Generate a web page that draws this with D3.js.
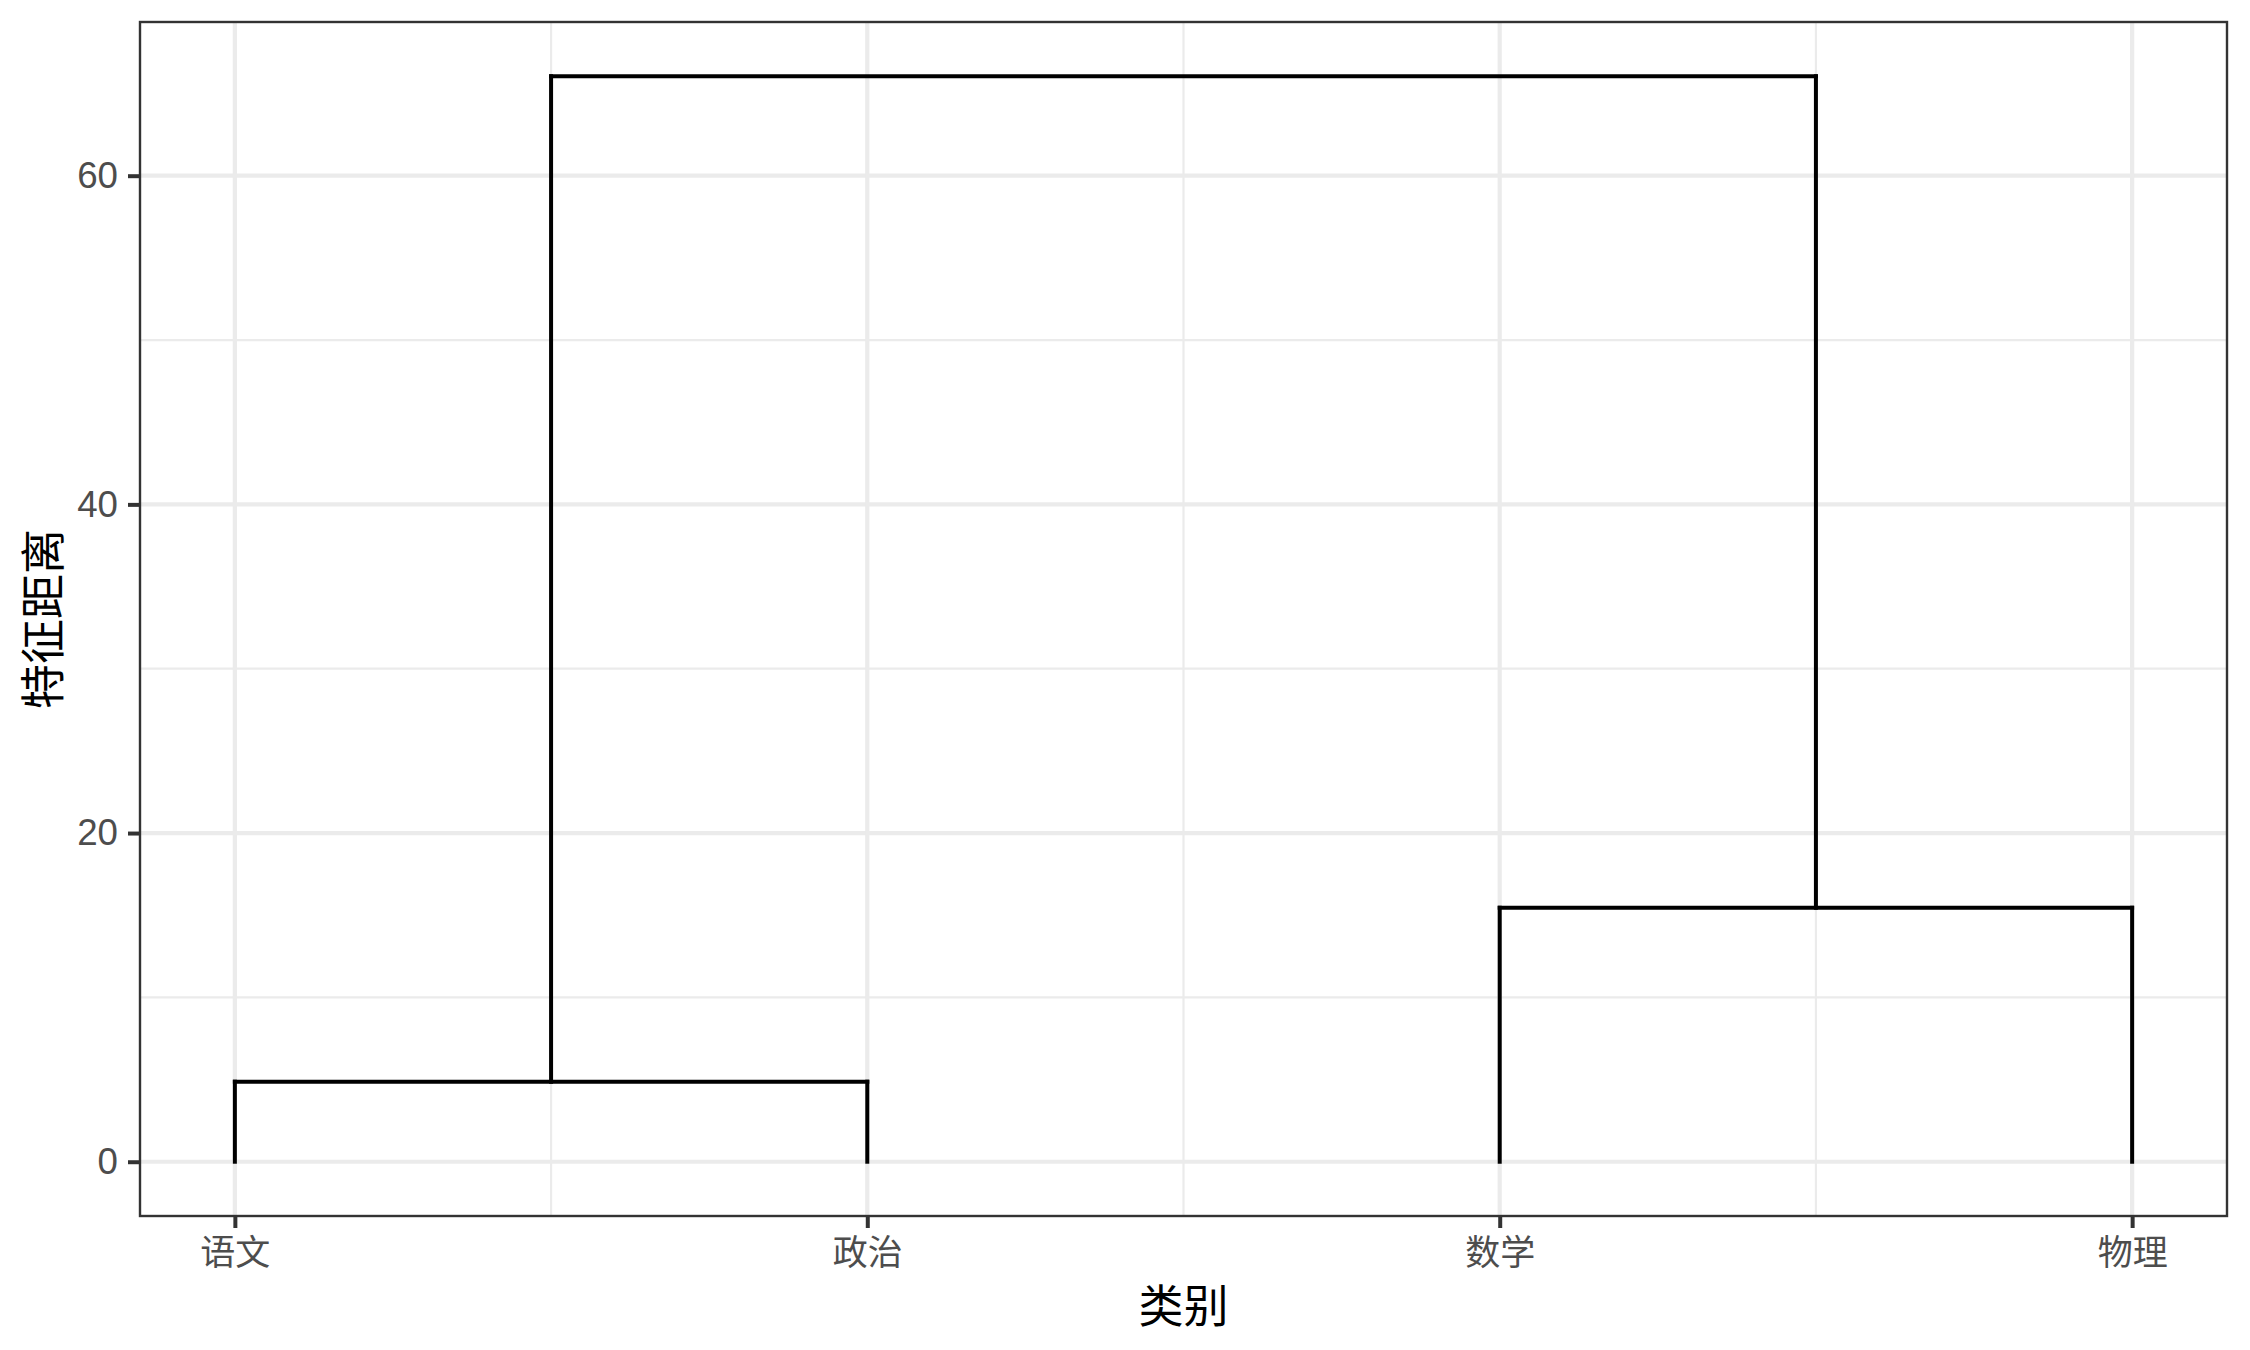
<!DOCTYPE html>
<html>
<head>
<meta charset="utf-8">
<script src="https://cdn.jsdelivr.net/npm/d3@7"></script>
<style>
  html, body { margin: 0; padding: 0; background: #ffffff; }
  svg { display: block; }
</style>
</head>
<body>
<svg id="chart" width="2250" height="1350"></svg>
<script>
// ---- data ----
const leafLabels = ["语文", "政治", "数学", "物理"];
// hclust-style merge table: negative = leaf index (1-based), positive = earlier merge (1-based)
const mergeLeft = [-1, -3, 1];
const mergeRight = [-2, -4, 2];
const mergeHeight = [4.87, 15.46, 66.05];
const yTicks = [0, 20, 40, 60];
const yMinor = [10, 30, 50];
const xTitle = "类别";
const yTitle = "特征距离";

// ---- layout ----
const W = 2250, H = 1350;
const panel = { left: 140, right: 2227, top: 22, bottom: 1216 };
const cjk = "'Noto Sans CJK SC', 'Noto Sans', sans-serif";
const latin = "'Liberation Sans', Arial, sans-serif";

const svg = d3.select("#chart");

const n = leafLabels.length;
const xDomain = [1, n];
const xPad = (xDomain[1] - xDomain[0]) * 0.05;
const x = d3.scaleLinear().domain([xDomain[0] - xPad, xDomain[1] + xPad]).range([panel.left, panel.right]);
const yMax = d3.max(mergeHeight);
const yPad = yMax * 0.05;
const y = d3.scaleLinear().domain([-yPad, yMax + yPad]).range([panel.bottom, panel.top]);

// compute node positions
function nodeInfo(ref) {
  if (ref < 0) return { x: -ref, h: 0 };
  return merged[ref - 1];
}
const merged = [];
const segments = [];
mergeLeft.forEach((l, i) => {
  const a = nodeInfo(l), b = nodeInfo(mergeRight[i]);
  const h = mergeHeight[i];
  segments.push({ x1: a.x, y1: h, x2: b.x, y2: h });
  segments.push({ x1: a.x, y1: h, x2: a.x, y2: a.h });
  segments.push({ x1: b.x, y1: h, x2: b.x, y2: b.h });
  merged.push({ x: (a.x + b.x) / 2, h: h });
});

// background
svg.append("rect").attr("width", W).attr("height", H).attr("fill", "#ffffff");

const defs = svg.append("defs");
defs.append("clipPath").attr("id", "pclip").append("rect")
  .attr("x", panel.left).attr("y", panel.top)
  .attr("width", panel.right - panel.left).attr("height", panel.bottom - panel.top);

const g = svg.append("g").attr("clip-path", "url(#pclip)");
g.append("rect").attr("x", panel.left).attr("y", panel.top)
  .attr("width", panel.right - panel.left).attr("height", panel.bottom - panel.top)
  .attr("fill", "#ffffff");

const xMinor = d3.range(1, n).map(i => i + 0.5);
const xMajor = d3.range(1, n + 1);

// minor grid
g.selectAll(".ymin").data(yMinor).enter().append("line")
  .attr("x1", panel.left).attr("x2", panel.right)
  .attr("y1", d => y(d)).attr("y2", d => y(d))
  .attr("stroke", "#ebebeb").attr("stroke-width", 2.2);
g.selectAll(".xmin").data(xMinor).enter().append("line")
  .attr("y1", panel.top).attr("y2", panel.bottom)
  .attr("x1", d => x(d)).attr("x2", d => x(d))
  .attr("stroke", "#ebebeb").attr("stroke-width", 2.2);
// major grid
g.selectAll(".ymaj").data(yTicks).enter().append("line")
  .attr("x1", panel.left).attr("x2", panel.right)
  .attr("y1", d => y(d)).attr("y2", d => y(d))
  .attr("stroke", "#ebebeb").attr("stroke-width", 4.2);
g.selectAll(".xmaj").data(xMajor).enter().append("line")
  .attr("y1", panel.top).attr("y2", panel.bottom)
  .attr("x1", d => x(d)).attr("x2", d => x(d))
  .attr("stroke", "#ebebeb").attr("stroke-width", 4.2);

// dendrogram segments
g.selectAll(".seg").data(segments).enter().append("line")
  .attr("x1", d => x(d.x1)).attr("y1", d => y(d.y1))
  .attr("x2", d => x(d.x2)).attr("y2", d => y(d.y2))
  .attr("stroke", "#000000").attr("stroke-width", 4)
  .attr("stroke-linecap", "square");

// panel border
svg.append("rect").attr("x", panel.left).attr("y", panel.top)
  .attr("width", panel.right - panel.left).attr("height", panel.bottom - panel.top)
  .attr("fill", "none").attr("stroke", "#333333").attr("stroke-width", 2.4);

// axes
const yAxis = d3.axisLeft(y).tickValues(yTicks).tickSize(11).tickPadding(10).tickFormat(d3.format("d"));
const ya = svg.append("g").attr("transform", `translate(${panel.left - 1},0)`).call(yAxis);
ya.select(".domain").remove();
ya.selectAll(".tick line").attr("stroke", "#333333").attr("stroke-width", 4);
ya.selectAll(".tick text").attr("fill", "#4d4d4d").style("font-family", latin).style("font-size", "36.7px");

const xAxis = d3.axisBottom(x).tickValues(xMajor).tickSize(11).tickPadding(12)
  .tickFormat(d => leafLabels[d - 1]);
const xa = svg.append("g").attr("transform", `translate(0,${panel.bottom + 1})`).call(xAxis);
xa.select(".domain").remove();
xa.selectAll(".tick line").attr("stroke", "#333333").attr("stroke-width", 4);
xa.selectAll(".tick text").attr("fill", "#4d4d4d").style("font-family", cjk).style("font-size", "35px");

// titles
svg.append("text").attr("x", (panel.left + panel.right) / 2).attr("y", 1303)
  .attr("text-anchor", "middle").attr("dominant-baseline", "central")
  .style("font-family", cjk).style("font-size", "45px").attr("fill", "#000000")
  .text(xTitle);
svg.append("text")
  .attr("transform", `translate(40,${(panel.top + panel.bottom) / 2}) rotate(-90)`)
  .attr("text-anchor", "middle").attr("dominant-baseline", "central")
  .style("font-family", cjk).style("font-size", "45px").attr("fill", "#000000")
  .text(yTitle);
</script>
</body>
</html>
